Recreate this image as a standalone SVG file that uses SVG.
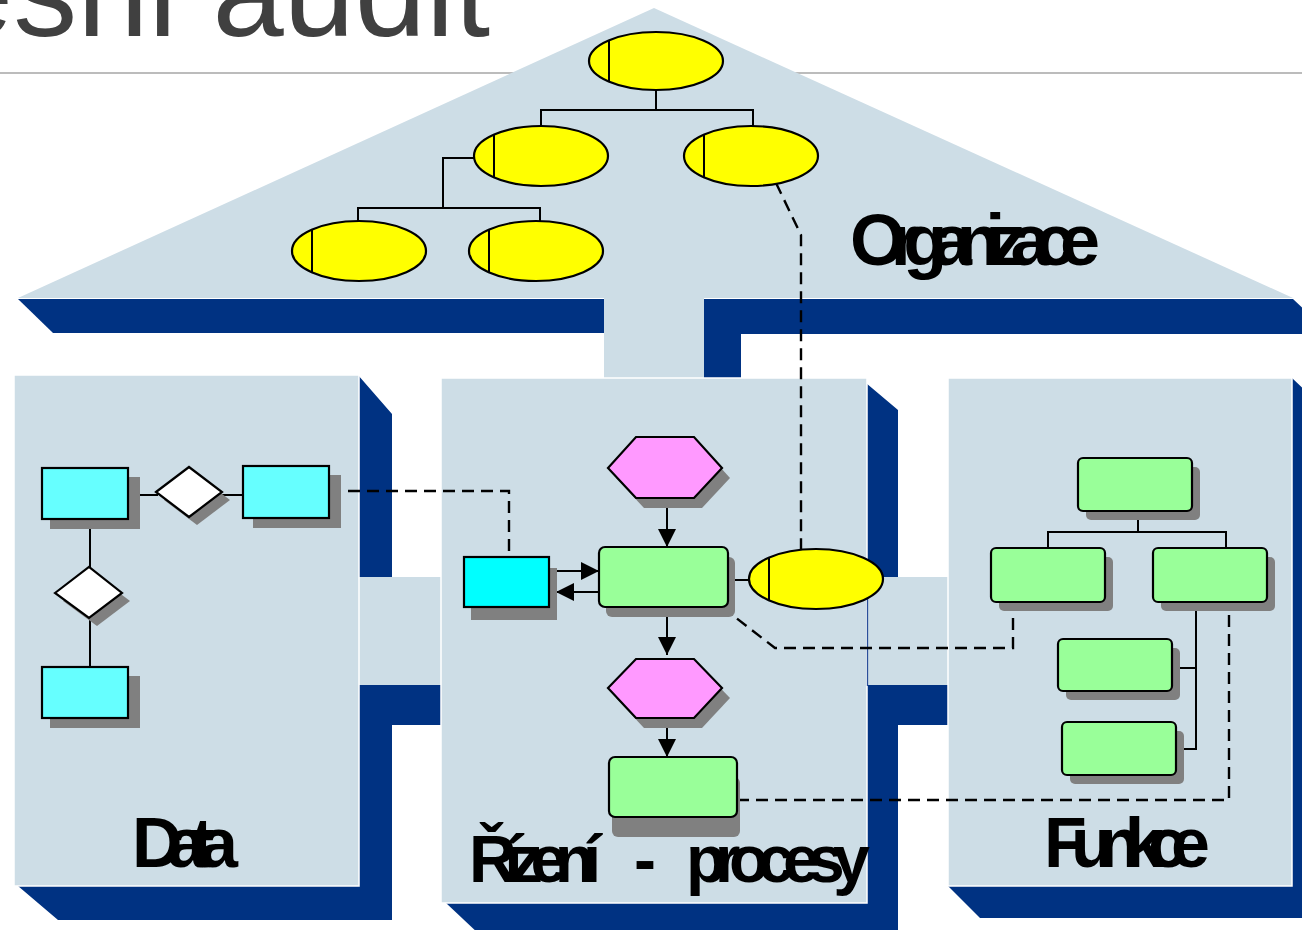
<svg xmlns="http://www.w3.org/2000/svg" width="1302" height="930" viewBox="0 0 1302 930">
<defs>
<style>
.lb{fill:#cddde6}
.box{fill:#cddde6;stroke:#ffffff;stroke-width:1.5}
.db{fill:#003282}
.sh{fill:#808080}
.ell{fill:#ffff00;stroke:#000;stroke-width:2.2}
.grn{fill:#99ff99;stroke:#000;stroke-width:2.2}
.cy{fill:#66ffff;stroke:#000;stroke-width:2.2}
.cy2{fill:#00ffff;stroke:#000;stroke-width:2.2}
.hex{fill:#ff99ff;stroke:#000;stroke-width:2.2}
.dia{fill:#ffffff;stroke:#000;stroke-width:2.2}
.ln{fill:none;stroke:#000;stroke-width:2}
.dash{fill:none;stroke:#000;stroke-width:2.4;stroke-dasharray:12 7}
.arr{fill:none;stroke:#000;stroke-width:2;marker-end:url(#ah)}
.lbl{font-family:"Liberation Sans",Arial,sans-serif;font-weight:bold;fill:#000}
</style>
<marker id="ah" viewBox="0 0 18 18" refX="18" refY="9" markerWidth="18" markerHeight="18" markerUnits="userSpaceOnUse" orient="auto">
<path d="M0,0 L18,9 L0,18 z" fill="#000"/>
</marker>
</defs>

<g id="title">
<line x1="0" y1="73" x2="1302" y2="73" stroke="#a6a6a6" stroke-width="1.6"/>
<text x="-58" y="36" font-family="'Liberation Sans',Arial,sans-serif" font-size="128" fill="#404040">esni audit</text>
</g>

<g id="background">
<polygon class="lb" points="654,8 1293,298 18,298"/>
<polygon class="db" points="18,299 604,299 604,333 53,333"/>
<polygon class="db" points="704,299 1293,299 1330,334 704,334"/>
<rect class="db" x="704" y="334" width="37" height="46"/>
<rect class="lb" x="604" y="298" width="100" height="82"/>
<polygon class="db" points="358,375 392,414 392,920 58,920 18,886 358,886"/>
<polygon class="db" points="866,383 898,410 898,935 480,935 446,903 866,903"/>
<polygon class="db" points="1292,378 1326,410 1326,918 980,918 948,886 1292,886"/>
<rect class="db" x="360" y="685" width="81" height="40"/>
<rect class="db" x="868" y="685" width="80" height="40"/>
<rect class="lb" x="358" y="577" width="84" height="108"/>
<rect class="lb" x="866" y="577" width="83" height="108"/>
<rect class="box" x="14" y="375" width="345" height="511"/>
<rect class="box" x="441" y="378" width="426" height="525"/>
<rect class="box" x="948" y="378" width="344" height="508"/>
<line x1="867.5" y1="577" x2="867.5" y2="686" stroke="#2a4f9a" stroke-width="1.3"/>
</g>

<g id="connectors">
<polyline class="ln" points="656,91 656,110"/>
<polyline class="ln" points="541,126 541,110 753,110 753,126"/>
<polyline class="ln" points="475,158 443,158 443,208"/>
<polyline class="ln" points="358,221 358,208 540,208 540,221"/>
<polyline class="dash" points="776,183 801,235 801,549"/>
<line class="ln" x1="128" y1="495" x2="158" y2="495"/>
<line class="ln" x1="221" y1="495" x2="244" y2="495"/>
<line class="ln" x1="90" y1="519" x2="90" y2="568"/>
<line class="ln" x1="90" y1="617" x2="90" y2="667"/>
<polyline class="dash" points="329,491 509,491 509,557"/>
<line class="arr" x1="667" y1="500" x2="667" y2="547"/>
<line class="arr" x1="667" y1="608" x2="667" y2="655"/>
<line class="arr" x1="667" y1="720" x2="667" y2="757"/>
<line class="arr" x1="556" y1="571" x2="599" y2="571"/>
<line class="arr" x1="599" y1="592" x2="556" y2="592"/>
<line class="ln" x1="728" y1="580" x2="750" y2="580"/>
<polyline class="dash" points="722,607 775,648 1013,648 1013,603"/>
<polyline class="dash" points="737,800 1229,800 1229,606"/>
<line class="ln" x1="1138" y1="512" x2="1138" y2="532"/>
<polyline class="ln" points="1048,548 1048,532 1226,532 1226,548"/>
<line class="ln" x1="1196" y1="602" x2="1196" y2="750"/>
<line class="ln" x1="1172" y1="668" x2="1196" y2="668"/>
<line class="ln" x1="1176" y1="749" x2="1196" y2="749"/>
</g>

<g id="org1"><ellipse class="ell" cx="656" cy="61" rx="67" ry="29"/><line class="ln" x1="609" y1="40" x2="609" y2="82"/></g>
<g id="org2"><ellipse class="ell" cx="541" cy="156" rx="67" ry="30"/><line class="ln" x1="494" y1="135" x2="494" y2="177"/></g>
<g id="org3"><ellipse class="ell" cx="751" cy="156" rx="67" ry="30"/><line class="ln" x1="704" y1="135" x2="704" y2="177"/></g>
<g id="org4"><ellipse class="ell" cx="359" cy="251" rx="67" ry="30"/><line class="ln" x1="312" y1="230" x2="312" y2="272"/></g>
<g id="org5"><ellipse class="ell" cx="536" cy="251" rx="67" ry="30"/><line class="ln" x1="489" y1="230" x2="489" y2="272"/></g>
<g id="orgLabel"><text class="lbl" x="850" y="265" font-size="72" textLength="250" lengthAdjust="spacing">Organizace</text></g>

<g id="dataA"><rect class="sh" x="50" y="477" width="90" height="52"/><rect class="cy" x="42" y="468" width="86" height="51"/></g>
<g id="dataB"><rect class="sh" x="253" y="475" width="88" height="53"/><rect class="cy" x="243" y="466" width="86" height="52"/></g>
<g id="dataC"><rect class="sh" x="50" y="676" width="90" height="52"/><rect class="cy" x="42" y="667" width="86" height="51"/></g>
<g id="rel1"><polygon class="sh" points="164,500 197,475 230,500 197,525"/><polygon class="dia" points="156,492 189,467 222,492 189,517"/></g>
<g id="rel2"><polygon class="sh" points="63,601 97,576 130,601 97,626"/><polygon class="dia" points="55,593 89,567 122,593 89,618"/></g>
<g id="dataLabel"><text class="lbl" x="132" y="867" font-size="70" textLength="106" lengthAdjust="spacing">Data</text></g>

<g id="event1"><polygon class="sh" points="616,478 644,447 702,447 730,478 702,508 644,508"/><polygon class="hex" points="608,468 636,437 694,437 722,468 694,498 636,498"/></g>
<g id="func1"><rect class="sh" x="606" y="557" width="129" height="60" rx="6"/><rect class="grn" x="599" y="547" width="129" height="60" rx="6"/></g>
<g id="event2"><polygon class="sh" points="616,698 644,669 702,669 730,698 702,728 644,728"/><polygon class="hex" points="608,688 636,659 694,659 722,688 694,718 636,718"/></g>
<g id="func2"><rect class="sh" x="612" y="777" width="128" height="60" rx="6"/><rect class="grn" x="609" y="757" width="128" height="60" rx="6"/></g>
<g id="dataObj"><rect class="sh" x="471" y="568" width="86" height="52"/><rect class="cy2" x="464" y="557" width="85" height="50"/></g>
<g id="orgUnit"><ellipse class="ell" cx="816" cy="579" rx="67" ry="30"/><line class="ln" x1="769" y1="558" x2="769" y2="601"/></g>
<g id="procLabel">
<text class="lbl" x="469" y="882" font-size="66" textLength="132" lengthAdjust="spacing">Řízení</text>
<text class="lbl" x="634" y="882" font-size="66">-</text>
<text class="lbl" x="686" y="882" font-size="66" textLength="184" lengthAdjust="spacing">procesy</text>
</g>

<g id="f1"><rect class="sh" x="1086" y="467" width="114" height="53" rx="5"/><rect class="grn" x="1078" y="458" width="114" height="53" rx="5"/></g>
<g id="f2"><rect class="sh" x="999" y="557" width="114" height="54" rx="5"/><rect class="grn" x="991" y="548" width="114" height="54" rx="5"/></g>
<g id="f3"><rect class="sh" x="1161" y="557" width="114" height="54" rx="5"/><rect class="grn" x="1153" y="548" width="114" height="54" rx="5"/></g>
<g id="f4"><rect class="sh" x="1066" y="648" width="114" height="52" rx="5"/><rect class="grn" x="1058" y="639" width="114" height="52" rx="5"/></g>
<g id="f5"><rect class="sh" x="1070" y="731" width="114" height="53" rx="5"/><rect class="grn" x="1062" y="722" width="114" height="53" rx="5"/></g>
<g id="funkceLabel"><text class="lbl" x="1044" y="867" font-size="70" textLength="166" lengthAdjust="spacing">Funkce</text></g>
</svg>
